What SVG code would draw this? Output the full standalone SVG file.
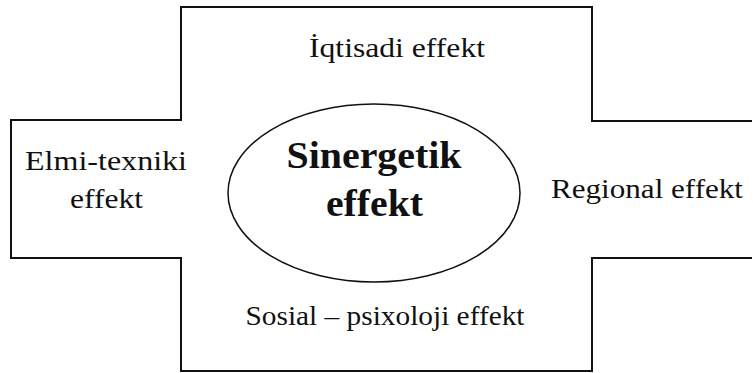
<svg xmlns="http://www.w3.org/2000/svg" width="753" height="373" viewBox="0 0 753 373">
<style>
.t{font-family:"Liberation Serif","Times New Roman",serif;font-size:28px;fill:#111;text-anchor:middle}
.b{font-family:"Liberation Serif","Times New Roman",serif;font-size:37px;font-weight:bold;fill:#111;text-anchor:middle}
.o{fill:none;stroke:#111;stroke-width:2}
</style>
<rect width="753" height="373" fill="#fff"/>
<g id="frame">
<path class="o" d="M752,121 H592 V7 H181 V120 H11 V258 H181 V371 H592 V258 H752"/>
</g>
<g id="center">
<ellipse cx="374" cy="193" rx="146" ry="89" fill="none" stroke="#111" stroke-width="1.5"/>
<text class="b" x="374" y="168" textLength="175" lengthAdjust="spacingAndGlyphs">Sinergetik</text>
<text class="b" x="374.5" y="216" textLength="97" lengthAdjust="spacingAndGlyphs">effekt</text>
</g>
<g id="top">
<text class="t" x="397" y="57" textLength="176" lengthAdjust="spacingAndGlyphs">İqtisadi effekt</text>
</g>
<g id="left">
<text class="t" x="106" y="170" textLength="162" lengthAdjust="spacingAndGlyphs">Elmi-texniki</text>
<text class="t" x="106.5" y="208" textLength="73" lengthAdjust="spacingAndGlyphs">effekt</text>
</g>
<g id="right">
<text class="t" x="647" y="198" textLength="192" lengthAdjust="spacingAndGlyphs">Regional effekt</text>
</g>
<g id="bottom">
<text class="t" x="385" y="325" textLength="279" lengthAdjust="spacingAndGlyphs">Sosial – psixoloji effekt</text>
</g>
<g id="connectors"></g>
</svg>
